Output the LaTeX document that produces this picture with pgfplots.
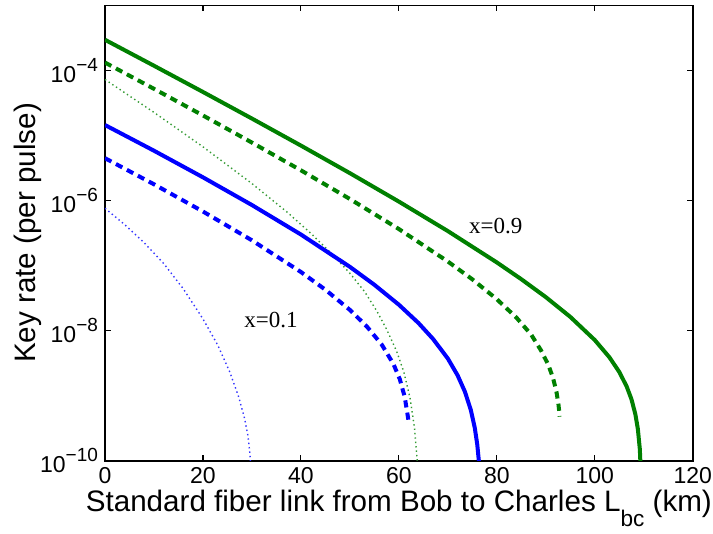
\documentclass[border=0pt]{standalone}
\usepackage{fontspec}
\setmainfont{Liberation Sans}
\newfontfamily\notefont{Liberation Serif}
\usepackage{pgfplots}
\pgfplotsset{compat=1.18}
\definecolor{mgreen}{RGB}{0,128,0}
\definecolor{mblue}{RGB}{0,0,255}
\newcommand{\pw}[1]{10\raisebox{0.5em}{\fontsize{9.5}{10}\selectfont −#1}}

\begin{document}
\begin{tikzpicture}
\useasboundingbox (-52.5pt,-36.65pt) rectangle (304pt,230.35pt);
\begin{axis}[
  scale only axis,
  width=293.85pt, height=227.7pt,
  xmin=0, xmax=120,
  ymode=log, ymin=1e-10, ymax=1e-3,
  xtick={0,20,...,120},
  ytick={1e-10,1e-8,1e-6,1e-4},
  yticklabels={\pw{10},\pw{8},\pw{6},\pw{4}},
  yminorticks=false, xminorticks=false,
  tick align=inside,
  major tick length=3pt,
  axis line style={line width=0.8pt},
  tick style={line width=0.6pt, black},
  ticklabel style={font=\fontsize{11.5}{13}\selectfont},
  /pgf/number format/assume math mode=true,
  xlabel={Standard fiber link from Bob to Charles L\raisebox{-7.5pt}{\fontsize{11.3}{12}\selectfont bc} (km)},
  ylabel={Key rate (per pulse)},
  label style={font=\fontsize{14.8}{18}\selectfont},
  xlabel style={at={(axis description cs:0.5,-0.112)}, anchor=base},
  ylabel style={at={(axis description cs:-0.119,0.5)}, anchor=base},
  solidline/.style={line width=2pt, line join=round},
  dashline/.style={line width=2pt, dash pattern=on 3.6pt off 2.6pt},
  dotline/.style={line width=0.7pt, dash pattern=on 0.7pt off 1.5pt},
]

% x = 0.9 (green)
\addplot[mgreen, solidline] coordinates {
  (0,2.951e-4) (10,1.178e-4) (20,4.656e-5) (30,1.816e-5) (40,6.982e-6)
  (50,2.630e-6) (60,9.616e-7) (70,3.388e-7) (80,1.117e-7) (85,6.166e-8)
  (90,3.273e-8) (95,1.626e-8) (100,7.161e-9) (103,3.882e-9) (105,2.317e-9)
  (106.5,1.393e-9) (107.5,8.79e-10) (108.3,5.15e-10) (108.8,3.08e-10)
  (109.2,1.52e-10) (109.45,5.75e-11)
};
\addplot[mgreen, dashline] coordinates {
  (0,1.318e-4) (10,5.20e-5) (20,2.028e-5) (30,7.76e-6) (40,2.91e-6)
  (50,1.054e-6) (60,3.64e-7) (70,1.153e-7) (75,6.14e-8) (80,3.04e-8)
  (84,1.585e-8) (87,8.71e-9) (89,5.0e-9) (90.5,3.0e-9) (91.5,1.854e-9)
  (92.2,1.124e-9) (92.6,7.24e-10) (92.85,4.76e-10)
};
\addplot[mgreen!80!white, dotline] coordinates {
  (0,7.24e-5) (10,2.26e-5) (20,6.68e-6) (30,1.82e-6) (37.2,6.61e-7)
  (42,3.14e-7) (46.6,1.445e-7) (50,7.60e-8) (53,3.98e-8) (55.5,2.0e-8)
  (57.5,1.047e-8) (59.5,4.90e-9) (61,2.34e-9) (62.3,9.12e-10)
  (63.2,3.16e-10) (63.7,1.12e-10) (63.9,5.6e-11)
};

% x = 0.1 (blue)
\addplot[mblue, solidline] coordinates {
  (0,1.445e-5) (10,5.82e-6) (20,2.27e-6) (30,8.51e-7) (40,3.0e-7)
  (50,9.55e-8) (55,5.06e-8) (60,2.50e-8) (64,1.309e-8) (67,7.41e-9)
  (70,3.72e-9) (72,2.05e-9) (73.5,1.145e-9) (74.7,6.0e-10) (75.5,3.21e-10)
  (76.0,1.80e-10) (76.4,8.9e-11) (76.6,5.1e-11)
};
\addplot[mblue, dashline] coordinates {
  (0,4.467e-6) (10,1.774e-6) (20,6.77e-7) (30,2.44e-7) (40,7.96e-8)
  (45,4.25e-8) (50,2.08e-8) (53.5,1.148e-8) (56.5,6.10e-9) (58.9,3.06e-9)
  (60.2,1.786e-9) (61.2,9.55e-10) (61.9,4.47e-10) (62.0,3.9e-10)
};
\addplot[mblue!80!white, dotline] coordinates {
  (0,7.59e-7) (4,4.27e-7) (8,2.24e-7) (12,1.072e-7) (16,4.37e-8)
  (20,1.514e-8) (23,6.03e-9) (25.5,2.29e-9) (27.3,9.55e-10)
  (28.5,4.47e-10) (29.2,2.40e-10) (29.6,1.26e-10) (29.85,6.3e-11)
};

\node[font=\notefont\fontsize{11.5}{13}\selectfont] at (axis cs:79.8,4.07e-7) {x=0.9};
\node[font=\notefont\fontsize{11.5}{13}\selectfont] at (axis cs:33.9,1.46e-8) {x=0.1};
\end{axis}
\end{tikzpicture}
\end{document}
